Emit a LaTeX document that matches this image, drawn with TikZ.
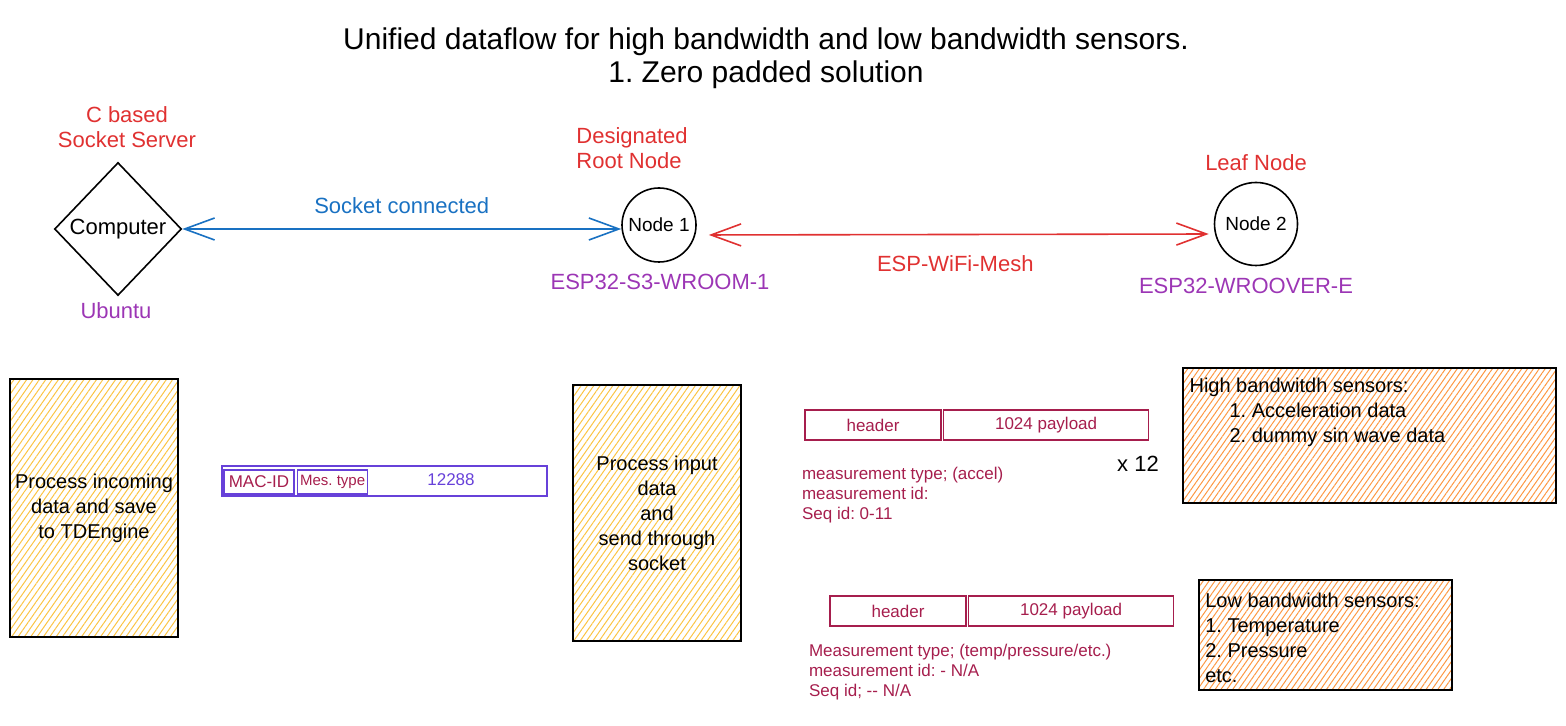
\documentclass[tikz,border=0pt]{standalone}
\usepackage{fontspec}
\setmainfont{Liberation Sans}
\usepackage{tikz}
\usetikzlibrary{
  positioning,
  shapes.geometric,
  arrows.meta,
  patterns.meta
}
\frenchspacing
\definecolor{exred}{HTML}{E03131}
\definecolor{exblue}{HTML}{1971C2}
\definecolor{expurple}{HTML}{9C36B5}
\definecolor{excrimson}{HTML}{A61E4D}
\definecolor{exindigo}{HTML}{6741D9}
\definecolor{exyellow}{HTML}{FAB005}
\definecolor{exorange}{HTML}{FD7E14}
\tikzset{>={Straight Barb[length=15pt, width=11pt]}}
\tikzset{font=\fontsize{11}{12.5}\selectfont}
\tikzset{
  redlabel/.style={text=exred, align=center},
  chiplabel/.style={text=expurple},
  device/.style={draw, circle, thick, inner sep=0pt, font=\fontsize{9.5}{11}\selectfont},
  procbox/.style={draw, thick, inner sep=0pt, align=center,
    pattern={Lines[angle=55, distance=2.6pt, line width=0.5pt]},
    pattern color=exyellow!75, font=\fontsize{10}{12.5}\selectfont},
  sensorbox/.style={draw, thick, inner sep=0pt,
    pattern={Lines[angle=55, distance=2.4pt, line width=0.5pt]},
    pattern color=exorange!80},
  field/.style={draw=excrimson, thick, text=excrimson, inner sep=0pt,
    minimum height=15pt, font=\fontsize{8.5}{10}\selectfont},
  macfield/.style={draw=exindigo, thick, text=excrimson, inner sep=0pt,
    minimum height=12pt, minimum width=35pt, font=\fontsize{8.5}{10}\selectfont},
  notes/.style={text=excrimson, align=left, anchor=north west,
    font=\fontsize{8.5}{10}\selectfont}
}
\begin{document}
\begin{tikzpicture}[x=0.5pt, y=-0.5pt]
  \useasboundingbox (0,0) rectangle (1566,726);
  \node[align=center, font=\fontsize{15}{16.5}\selectfont] (title) at (766,58)
    {Unified dataflow for high bandwidth and low bandwidth sensors.\\1. Zero padded solution};

  % network
  \node[draw, thick, diamond, shape aspect=1, inner sep=0pt,
    minimum width=63.5pt, minimum height=66.5pt] (comp) at (118,229) {Computer};
  \node[redlabel] (complbl) at (127,127) {C based\\Socket Server};
  \node[chiplabel] (os) at (116,311) {Ubuntu};
  \node[device, minimum size=37pt] (n1) at (659,225) {Node 1};
  \node[redlabel, align=left, anchor=west, inner sep=0pt] (n1lbl) at (576,148) {Designated\\Root Node};
  \node[chiplabel] (chip1) at (660,282) {ESP32-S3-WROOM-1};
  \node[device, minimum size=41.5pt] (n2) at (1256,224) {Node 2};
  \node[redlabel] (n2lbl) at (1256,163) {Leaf Node};
  \node[chiplabel] (chip2) at (1246,286) {ESP32-WROOVER-E};
  \draw[<->, exblue, thick] (comp.east) -- node[midway, above=4pt] {Socket connected} (comp.east -| n1.west);
  \draw[<->, exred, thick, shorten <=6pt, shorten >=2.5pt]
    ([yshift=-5pt]n1.east) -- node[midway, below=7pt] {ESP-WiFi-Mesh} ([yshift=-5pt]n2.west);

  % processing
  \node[procbox, minimum width=84pt, minimum height=129pt] (server) at (94,508)
    {Process incoming\\data and save\\to TDEngine};
  \node[procbox, minimum width=84pt, minimum height=128pt] (root) at (657,513)
    {Process input\\data\\and\\send through\\socket};

  % socket frame
  \node[draw=exindigo, thick, minimum width=162.5pt, minimum height=15pt, inner sep=0pt] (frame) at (384.5,481) {};
  \node[macfield] (mac) at (259,482) {MAC-ID};
  \node[macfield, right=1pt of mac, font=\fontsize{7.5}{9}\selectfont] (mtype) {Mes. type};
  \node[text=exindigo, font=\fontsize{8.5}{10}\selectfont] (size) at (451,480) {12288};

  % mesh packets
  \node[field, minimum width=68pt] (hdr1) at (873,425) {header};
  \node[field, minimum width=102.5pt, right=0.5pt of hdr1] (pay1) {1024 payload};
  \node[notes] (info1) at (795,460)
    {measurement type; (accel)\\measurement id:\\Seq id: 0-11};
  \node (times) at (1138,464) {x 12};
  \node[field, minimum width=68pt] (hdr2) at (898,611) {header};
  \node[field, minimum width=102.5pt, right=0.5pt of hdr2] (pay2) {1024 payload};
  \node[notes] (info2) at (802,637)
    {Measurement type; (temp/pressure/etc.)\\measurement id: - N/A\\Seq id; -{}- N/A};

  % sensors
  \node[sensorbox, minimum width=186.5pt, minimum height=67.5pt] (high) at (1369.5,435.5) {};
  \node[anchor=north west, align=left, font=\fontsize{10}{12.5}\selectfont] (hightxt)
    at ([shift={(0pt,-1.5pt)}]high.north west)
    {High bandwitdh sensors:\\\hspace*{20pt}1. Acceleration data\\\hspace*{20pt}2. dummy sin wave data};
  \node[sensorbox, minimum width=126.5pt, minimum height=55pt] (low) at (1325.5,635) {};
  \node[anchor=north west, align=left, font=\fontsize{10}{12.5}\selectfont] (lowtxt)
    at ([shift={(0pt,-3.5pt)}]low.north west)
    {Low bandwidth sensors:\\1. Temperature\\2. Pressure\\etc.};
\end{tikzpicture}
\end{document}
